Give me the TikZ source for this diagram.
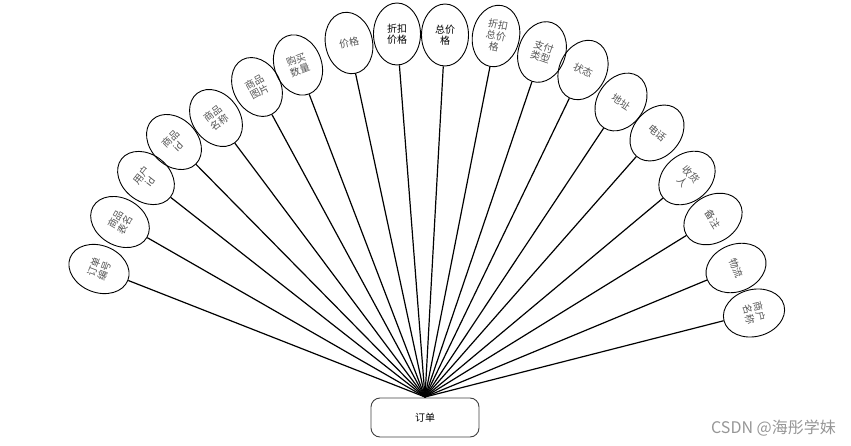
\documentclass[tikz,border=0pt]{standalone}
\usepackage{fontspec}
\setmainfont{Noto Sans CJK SC}
\usetikzlibrary{shapes.geometric}
\definecolor{txtgray}{RGB}{85,85,85}
\definecolor{wmgray}{RGB}{150,150,150}
\tikzset{
  attr/.style={draw=black, line width=0.9pt, ellipse, inner sep=0pt,
    minimum width=47pt, minimum height=62pt, align=center,
    font=\fontsize{10}{11}\selectfont, text=txtgray},
  attrb/.style={attr, text=black},
  link/.style={draw=black, line width=1.2pt},
  entity/.style={draw=black!75, line width=0.9pt, rounded corners=9pt,
    minimum width=108pt, minimum height=39pt, inner sep=0pt,
    font=\fontsize{10}{11}\selectfont}
}
\begin{document}
\begin{tikzpicture}[x=1pt,y=-1pt]
\useasboundingbox (0,0) rectangle (851,446);
\node[entity] (order) at (425,417.5) {订单};
\coordinate (hub) at (425,397);
\node[attr, rotate=68.7] (e1) at (99,269) {订单\\编号};
\node[attr, rotate=60.3] (e2) at (120,222) {商品\\表名};
\node[attr, rotate=52] (e3) at (146,178) {用户\\id};
\node[attr, rotate=44.7] (e4) at (174,142) {商品\\id};
\node[attr, rotate=36.9] (e5) at (216,118) {商品\\名称};
\node[attr, rotate=28.5] (e6) at (257,87) {商品\\图片};
\node[attr, rotate=21] (e7) at (298,65) {购买\\数量};
\node[attr, rotate=12.1] (e8) at (349,43) {价格};
\node[attrb] (e9) at (397,34) {折扣\\价格};
\node[attrb] (e10) at (445,35) {总价\\格};
\node[attr, rotate=-11.2] (e11) at (496,36) {折扣\\总价\\格};
\node[attr, rotate=-18.8] (e12) at (542,52) {支付\\类型};
\node[attr, rotate=-25.9] (e13) at (583,70) {状态};
\node[attr, rotate=-33.7] (e14) at (621,102) {地址};
\node[attr, rotate=-41.4] (e15) at (657,133) {电话};
\node[attr, rotate=-50.2] (e16) at (687,178) {收货\\人};
\node[attr, rotate=-58.4] (e17) at (713,219) {备注};
\node[attr, rotate=-67.6] (e18) at (736,268) {物流};
\node[attr, rotate=-75.8] (e19) at (754,313) {商户\\名称};
\foreach \i in {1,...,19} { \draw[link] (hub) -- (e\i); }
\node[anchor=east, inner sep=0pt, text=wmgray, font=\fontsize{16}{18}\selectfont] (wm) at (836,428) {CSDN @海彤学妹};
\end{tikzpicture}
\end{document}
